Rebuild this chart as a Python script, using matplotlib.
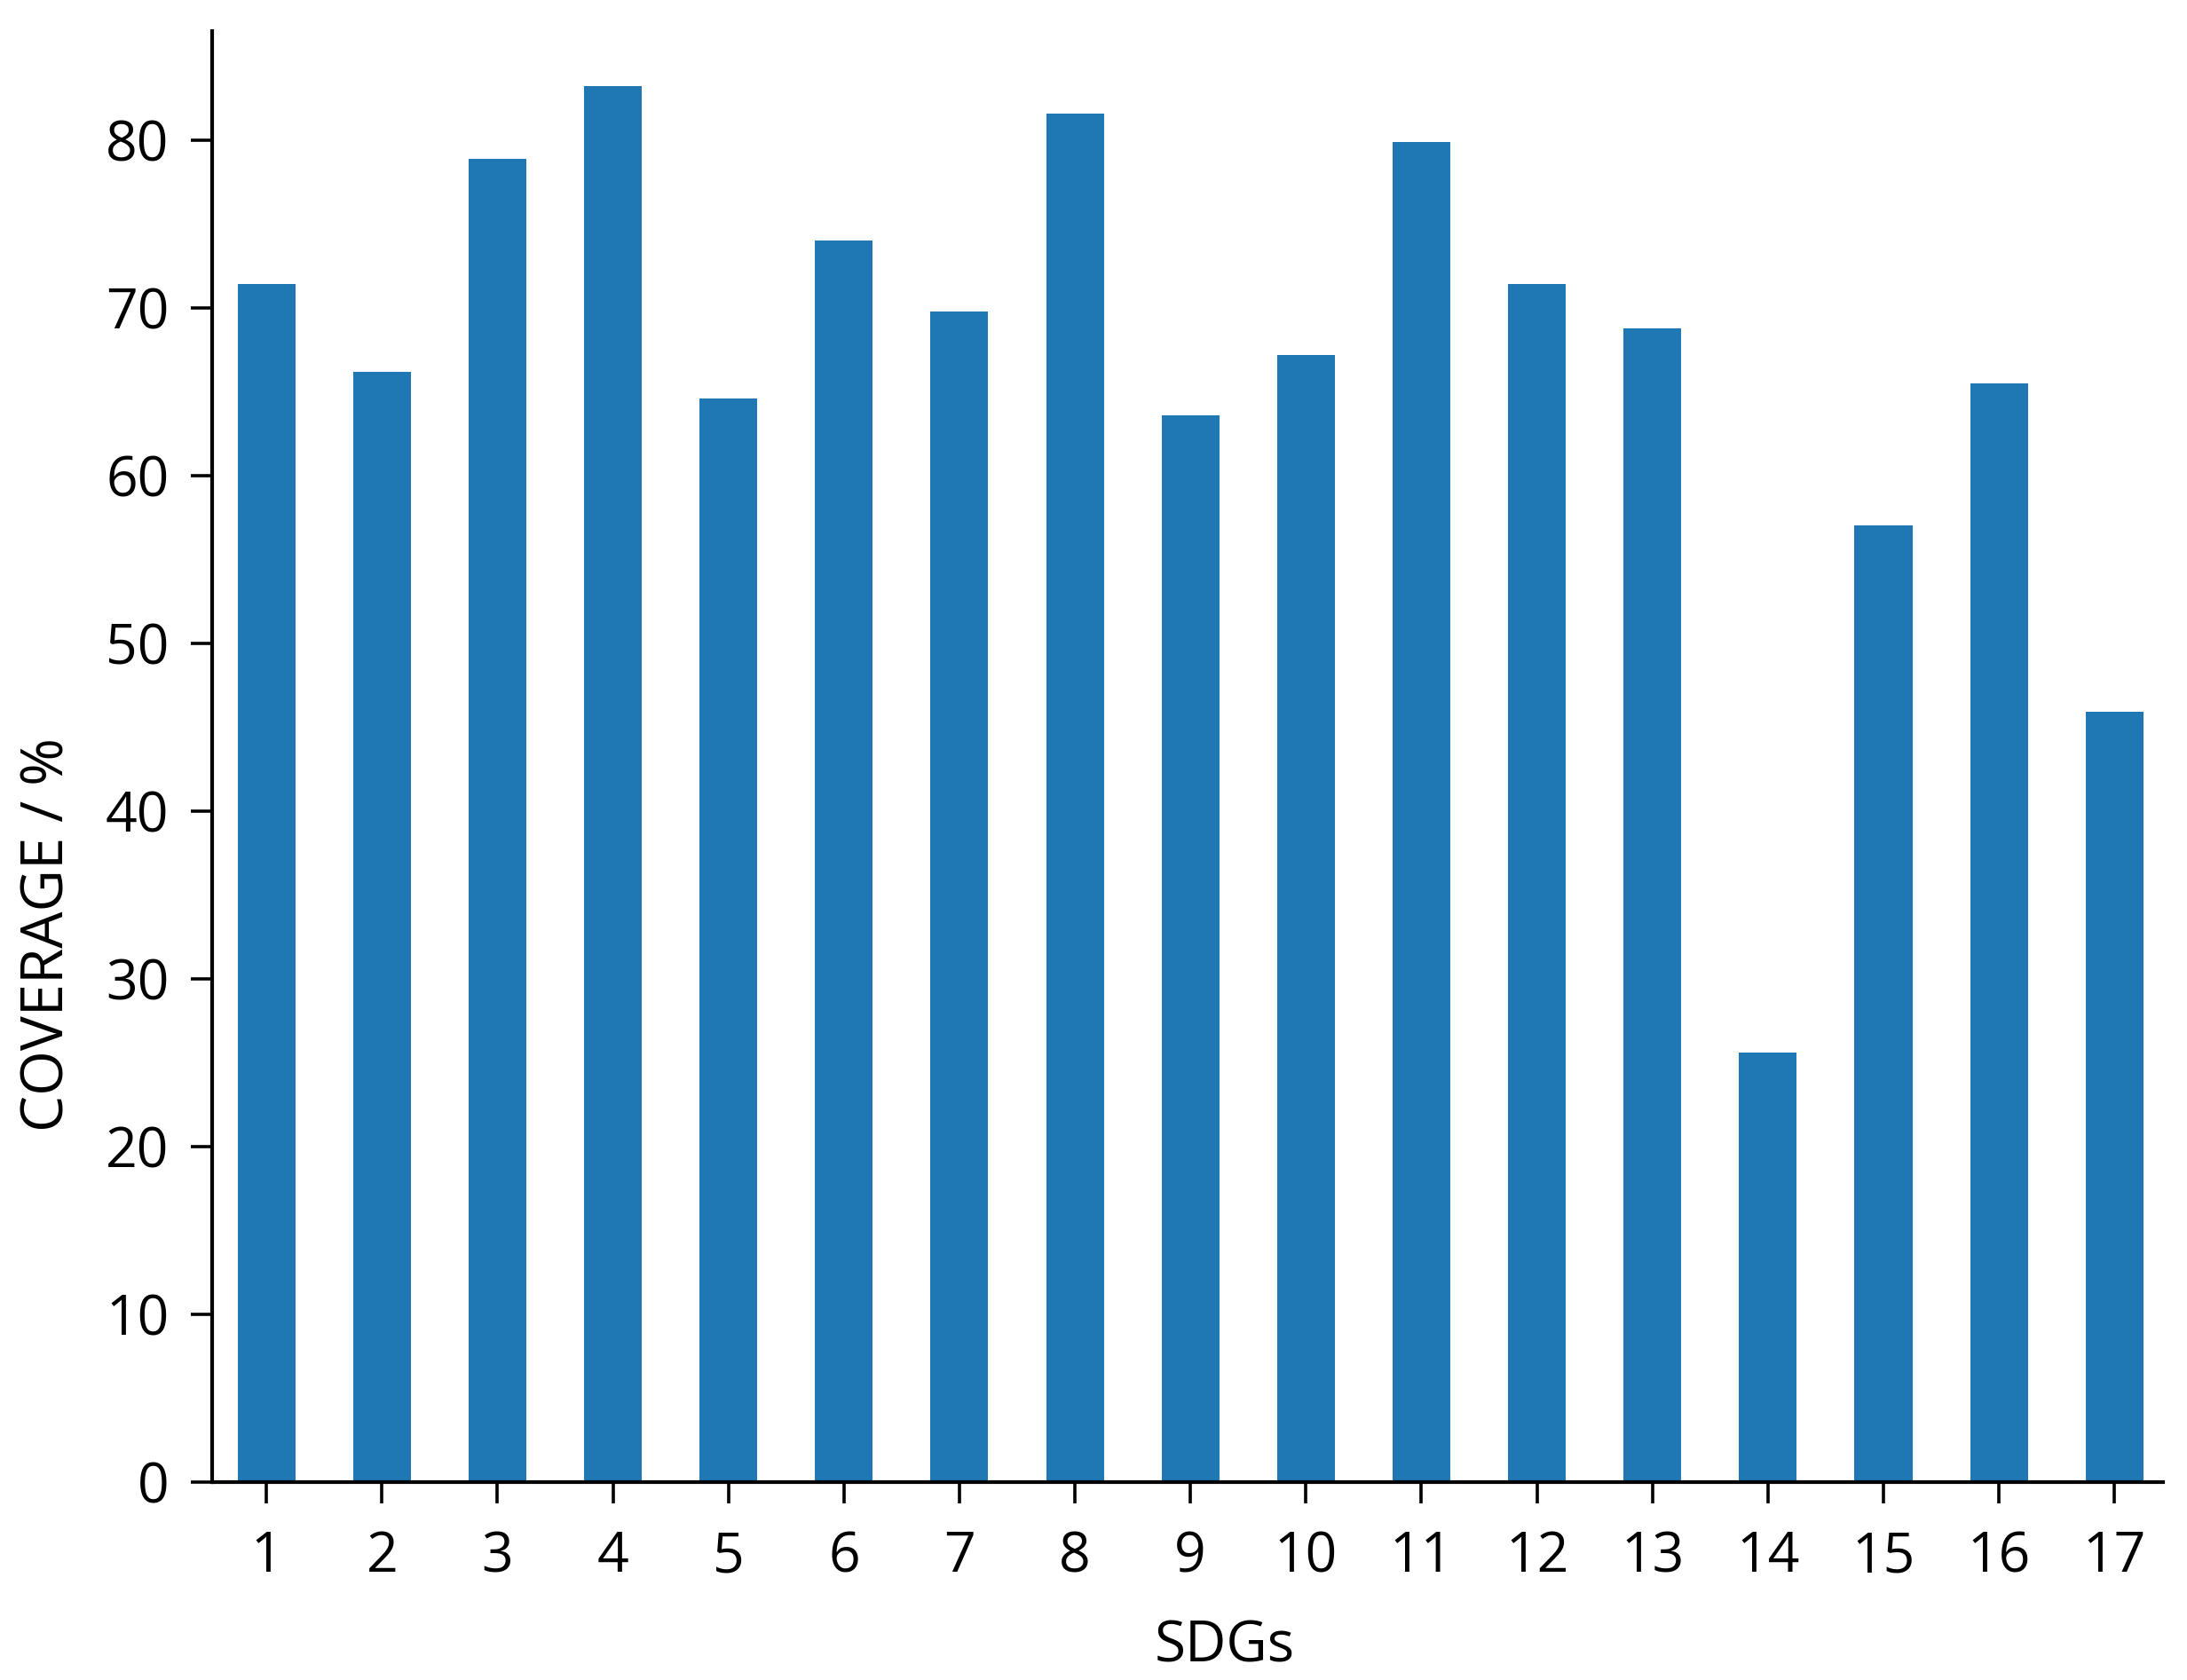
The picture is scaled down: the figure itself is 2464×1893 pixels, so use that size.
import matplotlib
matplotlib.use("Agg")
import matplotlib.pyplot as plt

sdgs = [str(i) for i in range(1, 18)]
coverage = [71.4, 66.2, 78.9, 83.2, 64.6, 74.0, 69.8, 81.6, 63.6,
            67.2, 79.9, 71.4, 68.8, 25.6, 57.0, 65.5, 45.9]

plt.rcParams['font.family'] = ['Open Sans', 'DejaVu Sans']

fig = plt.figure(figsize=(12.32, 9.465), dpi=200)
ax = fig.add_axes([0.097, 0.118, 0.892, 0.8635])

ax.bar(range(len(sdgs)), coverage, width=0.5, color='#1f77b4')

ax.set_xticks(range(len(sdgs)))
ax.set_xticklabels(sdgs)
ax.set_xlim(-0.47, 16.42)
ax.set_ylim(0, 86.5)
ax.set_yticks(range(0, 90, 10))

for s in ['top', 'right']:
    ax.spines[s].set_visible(False)
for s in ['left', 'bottom']:
    ax.spines[s].set_linewidth(1.5)
ax.tick_params(labelsize=22.5, length=8.5, width=1.3, pad=9)
ax.tick_params(axis='x', pad=11)

ax.set_xlabel("SDGs", fontsize=23)
ax.set_ylabel("COVERAGE / %", fontsize=23.5)
ax.xaxis.set_label_coords(0.519, -0.094)
ax.yaxis.set_label_coords(-0.069, 0.377)

fig.savefig("out.png", dpi=200)
